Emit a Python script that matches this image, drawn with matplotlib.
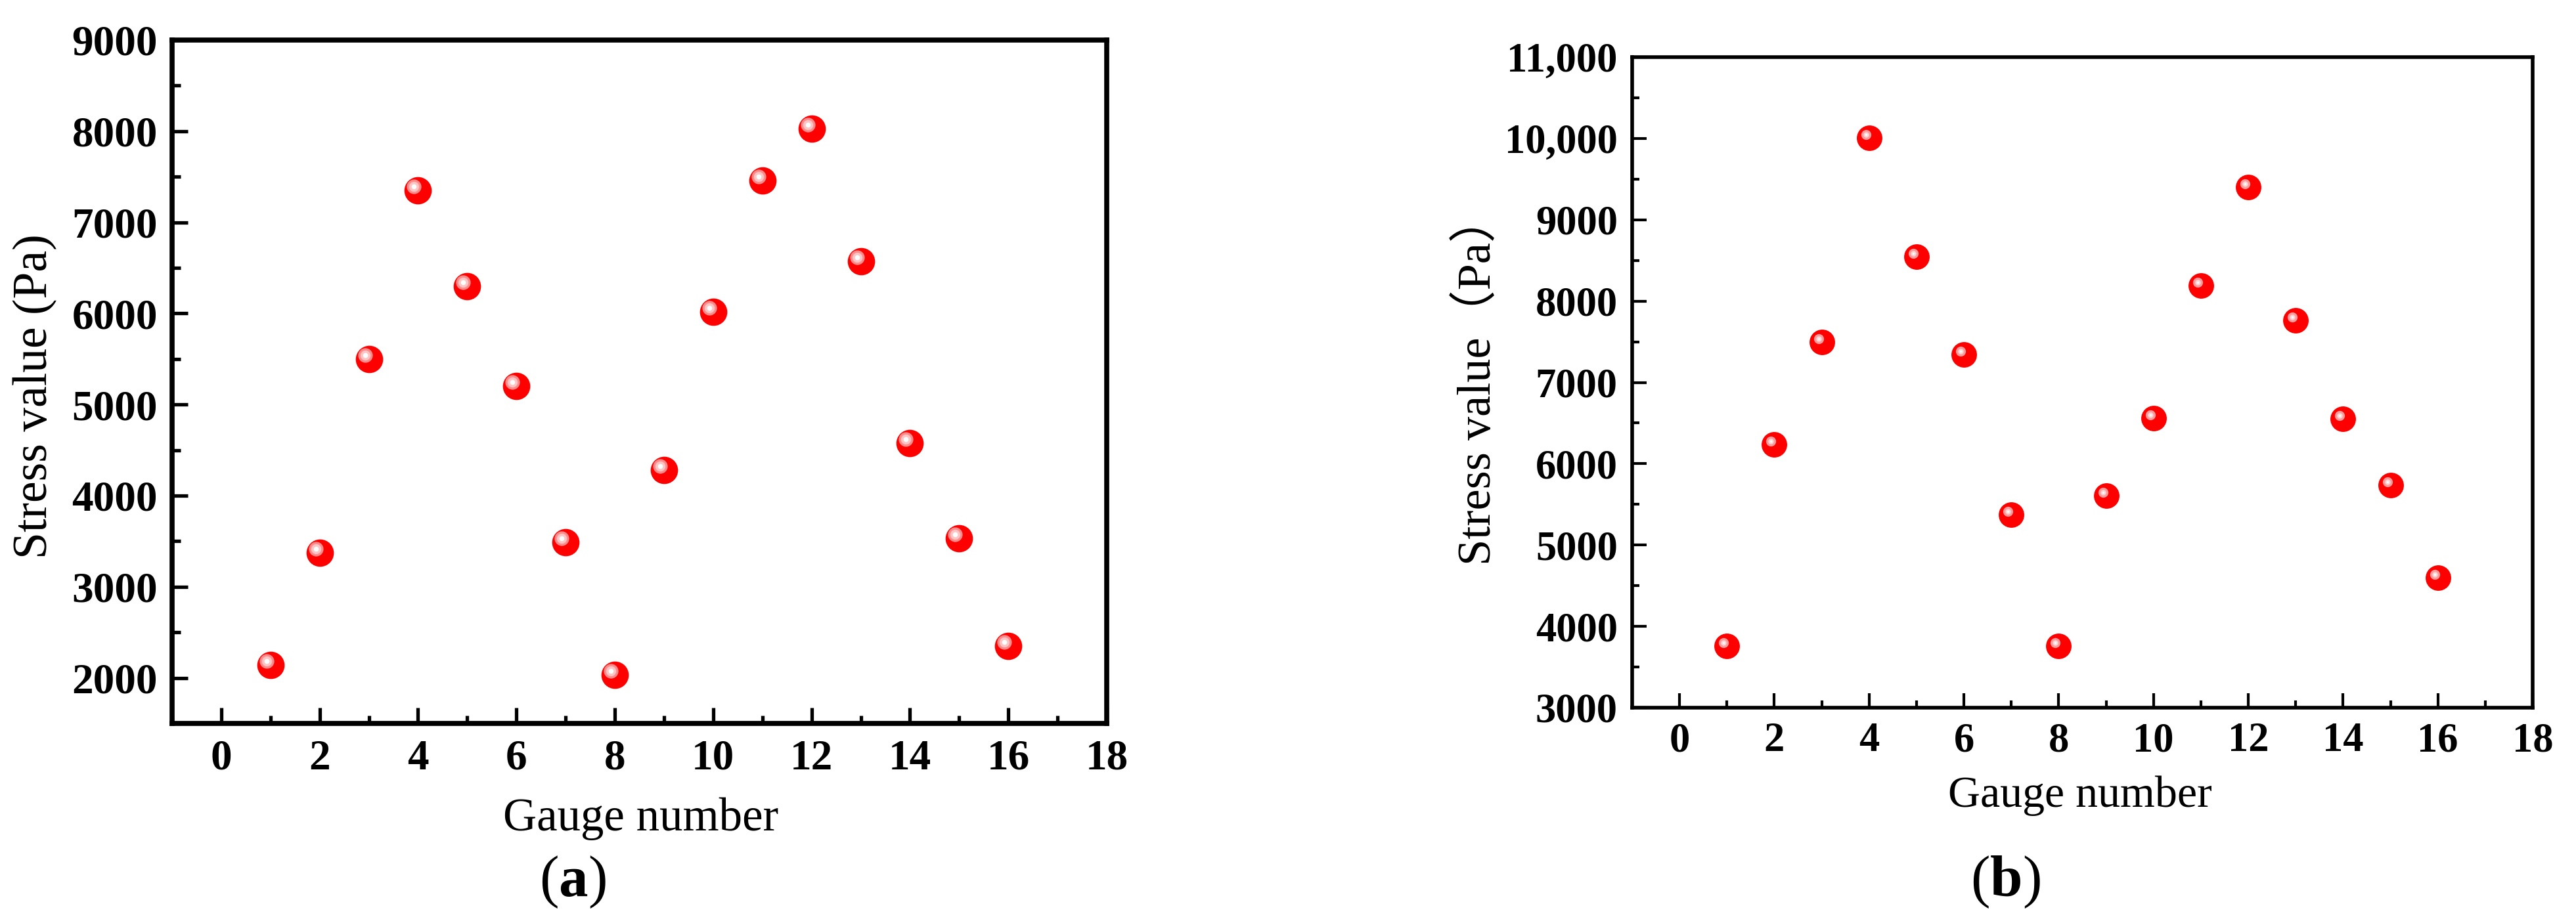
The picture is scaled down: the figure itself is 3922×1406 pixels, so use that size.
import matplotlib
matplotlib.use("Agg")
import matplotlib.pyplot as plt
from matplotlib.ticker import MultipleLocator, FixedLocator, FixedFormatter
from matplotlib.transforms import offset_copy

# ---------------- data ----------------
gauge = list(range(1, 17))
stress_a = [2140, 3370, 5500, 7350, 6295, 5205, 3485, 2030,
            4280, 6020, 7460, 8030, 6575, 4575, 3530, 2350]
stress_b = [3760, 6235, 7500, 10010, 8545, 7345, 5370, 3760,
            5610, 6560, 8190, 9400, 7765, 6555, 5740, 4595]

xticks = [0, 2, 4, 6, 8, 10, 12, 14, 16, 18]
yticks_a = [2000, 3000, 4000, 5000, 6000, 7000, 8000, 9000]
ylabels_a = ["2000", "3000", "4000", "5000", "6000", "7000", "8000", "9000"]
yticks_b = [3000, 4000, 5000, 6000, 7000, 8000, 9000, 10000, 11000]
ylabels_b = ["3000", "4000", "5000", "6000", "7000", "8000", "9000",
             "10,000", "11,000"]

xlabel = "Gauge number"
ylabel_a = "Stress value (Pa)"
ylabel_b = "Stress value\uff08Pa\uff09"

W, H, DPI = 3922, 1406, 100
fig = plt.figure(figsize=(W / DPI, H / DPI), dpi=DPI)

serif = ["Liberation Serif", "DejaVu Serif"]
serif_cjk = ["Liberation Serif", "Noto Sans CJK SC", "DejaVu Sans"]
plt.rcParams["mathtext.fontset"] = "custom"
plt.rcParams["mathtext.rm"] = "Liberation Serif"
plt.rcParams["mathtext.bf"] = "Liberation Serif:bold"


def px_rect(x0, x1, ytop, ybot):
    return [x0 / W, (H - ybot) / H, (x1 - x0) / W, (ybot - ytop) / H]


def style_axes(ax, yticks, ylabels, ylim, spine_w, tick_w, maj_len, min_len,
               fs, xpad, ypad):
    ax.set_xlim(-1, 18)
    ax.set_ylim(*ylim)
    ax.xaxis.set_major_locator(FixedLocator(xticks))
    ax.xaxis.set_minor_locator(MultipleLocator(1))
    ax.yaxis.set_major_locator(FixedLocator(yticks))
    ax.yaxis.set_major_formatter(FixedFormatter(ylabels))
    ax.yaxis.set_minor_locator(MultipleLocator(500))
    for s in ax.spines.values():
        s.set_linewidth(spine_w)
    ax.tick_params(which="both", direction="in", top=False, right=False,
                   width=tick_w)
    ax.tick_params(which="major", length=maj_len)
    ax.tick_params(which="minor", length=min_len)
    ax.tick_params(axis="x", which="major", pad=xpad)
    ax.tick_params(axis="y", which="major", pad=ypad)
    for lab in ax.get_xticklabels() + ax.get_yticklabels():
        lab.set_fontfamily(serif)
        lab.set_fontweight("bold")
        lab.set_fontsize(fs)


def spheres(ax, x, y, ms, layers):
    ax.plot(x, y, "o", ms=ms, color="#ff0000", mec="none", zorder=3)
    for (dx, dy, size, col) in layers:
        tr = offset_copy(ax.transData, fig=fig, x=dx, y=dy, units="dots")
        ax.plot(x, y, "o", ms=size, color=col, mec="none", transform=tr,
                zorder=4)


# ---------------- panel (a) ----------------
ax1 = fig.add_axes(px_rect(262, 1685, 61, 1102))
style_axes(ax1, yticks_a, ylabels_a, (1500, 9000), 5.5, 3.8, 17, 9, 47, 17, 16)
spheres(ax1, gauge, stress_a, 30,
        [(-6, 6, 16, "#ff8a8a"), (-6, 6, 11, "#ffc4c4"), (-6, 6, 5.5, "#ffffff")])

# ---------------- panel (b) ----------------
ax2 = fig.add_axes(px_rect(2485, 3856, 87, 1078))
style_axes(ax2, yticks_b, ylabels_b, (3000, 11000), 4, 3, 15.5, 8, 45, 16, 16)
spheres(ax2, gauge, stress_b, 28,
        [(-5, 5, 11, "#ff9a9a"), (-5, 5, 6, "#ffd6d6"), (-5, 5, 2.5, "#ffffff")])

# ---------------- labels ----------------
fig.text(53 / W, 1 - 604 / H, ylabel_a, rotation=90, ha="center", va="center",
         fontsize=53, family=serif_cjk)
fig.text(2250 / W, 1 - 579 / H, ylabel_b, rotation=90, ha="center", va="center",
         fontsize=52, family=serif_cjk)
fig.text(976 / W, 1 - 1265 / H, xlabel, ha="center", va="baseline",
         fontsize=51, family=serif)
fig.text(3167 / W, 1 - 1229 / H, xlabel, ha="center", va="baseline",
         fontsize=49, family=serif)
fig.text(872 / W, 1 - 1365 / H, r"$\mathrm{(}\mathbf{a}\mathrm{)}$",
         ha="center", va="baseline", fontsize=64)
fig.text(3053 / W, 1 - 1365 / H, r"$\mathrm{(}\mathbf{b}\mathrm{)}$",
         ha="center", va="baseline", fontsize=64)

fig.savefig("out.png", dpi=DPI, facecolor="white")
